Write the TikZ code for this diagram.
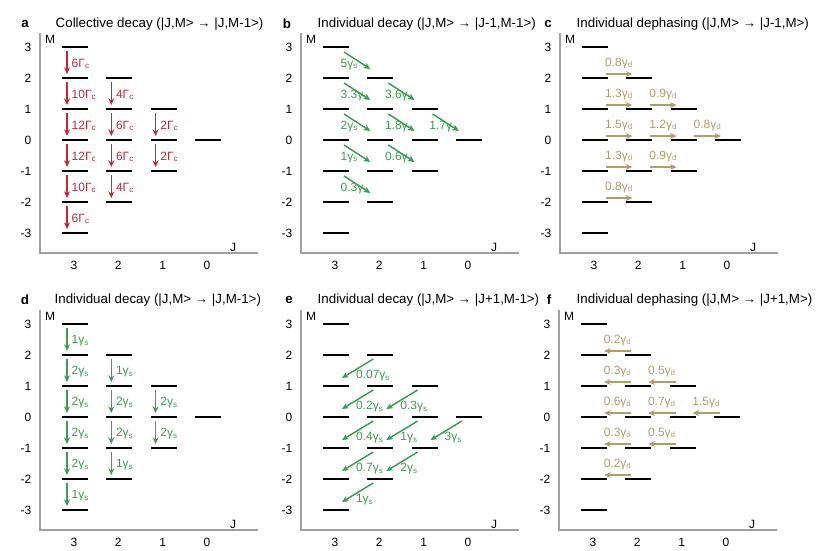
\documentclass[tikz,border=0pt]{standalone}
\usepackage{fontspec}
\setmainfont{Liberation Sans}
\usetikzlibrary{arrows.meta}
\definecolor{decayred}{RGB}{196,40,50}
\definecolor{decaygreen}{RGB}{60,155,80}
\definecolor{dephtan}{RGB}{178,156,110}
\definecolor{axisgray}{RGB}{160,160,160}
\tikzstyle{level} = [rectangle, fill=black, inner sep=0pt, outer sep=0pt,
    minimum width=19.5pt, minimum height=1.8pt]
\tikzstyle{axis} = [draw=axisgray, line width=1.5pt]
\tikzstyle{ticklabel} = [font=\fontsize{9}{10}\selectfont]
\tikzstyle{title} = [anchor=west, font=\fontsize{10}{12}\selectfont]
\tikzstyle{letter} = [font=\fontsize{10}{12}\selectfont\bfseries]
\tikzstyle{rate} = [inner sep=1pt, font=\fontsize{9}{10}\selectfont]
\tikzstyle{arrow} = [line width=1.1pt, -{Stealth[length=5pt, width=4.5pt]}]

\begin{document}
\begin{tikzpicture}[x=0.75pt, y=-0.75pt]
    \useasboundingbox (0,0) rectangle (830,550);

        % Panels: axes, ticks and levels
        \foreach \p/\ox/\oy in {a/40/140, b/301/140, c/560/140, d/40/417, e/301/417, f/559/417} {
            \begin{scope}[shift={(\ox,\oy)}]
                \draw[axis] (0,-107) -- (0,113) -- (218,113);
                \node[ticklabel] at (10,-101) {M};
                \node[ticklabel] at (193,107) {J};
                \foreach \m in {-3,...,3}
                    \node[ticklabel, anchor=east] at (-4,{-31*\m}) {\m};
                \foreach \j/\mlo in {3/-3, 2/-2, 1/-1, 0/0} {
                    \node[ticklabel] at ({34+44.3*(3-\j)},125) {\j};
                    \foreach \m in {\mlo,...,\j}
                        \node[level] (\p-\j-\m) at ({35+44.3*(3-\j)},{-31*\m}) {};
                }
            \end{scope}
        }

        % Titles
        \node[letter] at (25,24) {a};
        \node[title] at (51,24) {Collective decay (|J,M> → |J,M-1>)};
        \node[letter] at (287,24) {b};
        \node[title] at (313,24) {Individual decay (|J,M> → |J-1,M-1>)};
        \node[letter] at (548,24) {c};
        \node[title] at (572,24) {Individual dephasing (|J,M> → |J-1,M>)};
        \node[letter] at (25,300) {d};
        \node[title] at (50,300) {Individual decay (|J,M> → |J,M-1>)};
        \node[letter] at (289,300) {e};
        \node[title] at (313,300) {Individual decay (|J,M> → |J+1,M-1>)};
        \node[letter] at (549,300) {f};
        \node[title] at (572,300) {Individual dephasing (|J,M> → |J+1,M>)};

        % a: collective decay
        \foreach \j/\m/\rate [evaluate=\m as \mm using int(\m-1)] in
            {3/3/6, 3/2/10, 3/1/12, 3/0/12, 3/-1/10, 3/-2/6, 2/2/4, 2/1/6, 2/0/6, 2/-1/4, 1/1/2, 1/0/2}
            \draw[arrow, decayred] ([xshift=-6pt,yshift=-3pt]a-\j-\m.center) -- ([xshift=-6pt,yshift=3pt]a-\j-\mm.center)
                node[rate, midway, anchor=west, xshift=2pt, yshift=-1pt, text=decayred] {\rate{}Γ\textsubscript{c}};

        % b: individual decay to J-1
        \foreach \j/\m/\rate [evaluate=\j as \jj using int(\j-1), evaluate=\m as \mm using int(\m-1)] in
            {3/3/5, 3/2/3.3, 3/1/2, 3/0/1, 3/-1/0.3, 2/2/3.6, 2/1/1.8, 2/0/0.6, 1/1/1.7}
            \draw[arrow, decaygreen] ([xshift=6pt,yshift=-3.75pt]b-\j-\m.center) -- ([xshift=-7.5pt,yshift=6.75pt]b-\jj-\mm.center)
                node[rate, pos=0, anchor=west, xshift=-4pt, yshift=-9.4pt, text=decaygreen] {\rate{}γ\textsubscript{s}};

        % c: individual dephasing to J-1
        \foreach \j/\m/\rate [evaluate=\j as \jj using int(\j-1)] in
            {3/2/0.8, 3/1/1.3, 2/1/0.9, 3/0/1.5, 2/0/1.2, 1/0/0.8, 3/-1/1.3, 2/-1/0.9, 3/-2/0.8}
            \draw[arrow, dephtan] ([xshift=8pt,yshift=3pt]c-\j-\m.center) -- ([xshift=-5.25pt,yshift=3pt]c-\jj-\m.center)
                node[rate, midway, anchor=base, yshift=6pt, text=dephtan] {\rate{}γ\textsubscript{d}};

        % d: individual decay within J
        \foreach \j/\m/\rate [evaluate=\m as \mm using int(\m-1)] in
            {3/3/1, 3/2/2, 3/1/2, 3/0/2, 3/-1/2, 3/-2/1, 2/2/1, 2/1/2, 2/0/2, 2/-1/1, 1/1/2, 1/0/2}
            \draw[arrow, decaygreen] ([xshift=-6pt,yshift=-3pt]d-\j-\m.center) -- ([xshift=-6pt,yshift=3pt]d-\j-\mm.center)
                node[rate, midway, anchor=west, xshift=2pt, yshift=-1pt, text=decaygreen] {\rate{}γ\textsubscript{s}};

        % e: individual decay to J+1
        \foreach \j/\m/\rate [evaluate=\j as \jj using int(\j+1), evaluate=\m as \mm using int(\m-1)] in
            {2/2/0.07, 2/1/0.2, 2/0/0.4, 2/-1/0.7, 2/-2/1, 1/1/0.3, 1/0/1, 1/-1/2, 0/0/3}
            \draw[arrow, decaygreen] ([xshift=-5.25pt,yshift=-3pt]e-\j-\m.center) -- ([xshift=4.5pt,yshift=6pt]e-\jj-\mm.center)
                node[rate, pos=1, anchor=west, xshift=9pt, yshift=1.5pt, text=decaygreen] {\rate{}γ\textsubscript{s}};

        % f: individual dephasing to J+1
        \foreach \j/\m/\rate [evaluate=\j as \jj using int(\j+1)] in
            {2/2/0.2, 2/1/0.3, 1/1/0.5, 2/0/0.6, 1/0/0.7, 0/0/1.5, 2/-1/0.3, 1/-1/0.5, 2/-2/0.2}
            \draw[arrow, dephtan] ([xshift=-5.25pt,yshift=3pt]f-\j-\m.center) -- ([xshift=7.5pt,yshift=3pt]f-\jj-\m.center)
                node[rate, midway, anchor=base, yshift=6pt, text=dephtan] {\rate{}γ\textsubscript{d}};

\end{tikzpicture}
\end{document}
